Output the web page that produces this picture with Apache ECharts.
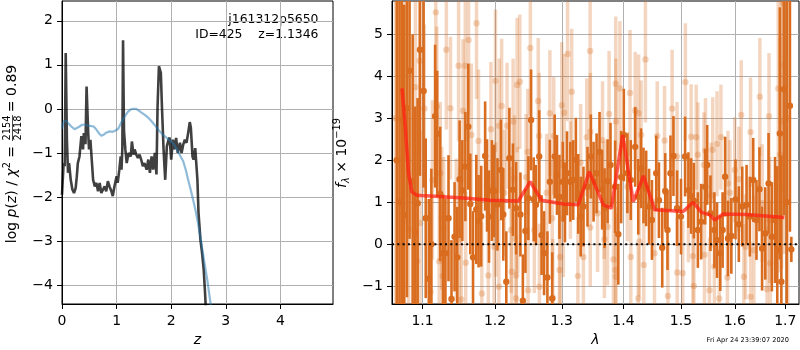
<!DOCTYPE html>
<html><head><meta charset="utf-8">
<script src="https://cdn.jsdelivr.net/npm/echarts@6/dist/echarts.min.js"></script>
<style>html,body{margin:0;padding:0;background:#fff}#c{width:800px;height:350px}</style>
</head><body><div id="c"></div>
<script>
// ---------------- DATA ----------------
const zTicks = [0, 1, 2, 3, 4];
const logpTicks = [-4, -3, -2, -1, 0, 1, 2];
const waveTicks = [1.1, 1.2, 1.3, 1.4, 1.5, 1.6, 1.7];
const fluxTicks = [-1, 0, 1, 2, 3, 4, 5];

// p(z) curve
const pzZ = [0.00,0.01,0.02,0.03,0.05,0.068,0.09,0.11,0.13,0.16,0.19,0.22,0.25,0.27,0.29,0.32,0.355,0.385,0.40,0.43,
  0.45,0.48,0.495,0.52,0.55,0.57,0.60,0.63,0.66,0.69,0.72,0.75,0.78,0.81,0.84,0.87,0.905,0.93,0.96,1.00,
  1.02,1.05,1.075,1.09,1.105,1.118,1.135,1.16,1.185,1.22,1.26,1.28,1.31,1.33,1.36,1.39,1.42,1.45,1.48,1.51,
  1.55,1.58,1.61,1.64,1.67,1.70,1.73,1.75,1.775,1.81,1.83,1.86,1.89,1.92,1.95,1.97,2.00,2.03,2.06,2.09,
  2.12,2.16,2.19,2.22,2.25,2.28,2.31,2.34,2.36,2.39,2.41,2.44,2.46,2.48,2.50,2.535,2.565,2.595,2.62,2.64];
const pzLog = [-1.95,-1.70,-1.68,-1.23,-1.30,1.27,-0.70,-1.45,-1.23,-1.61,-1.83,-1.91,-1.80,-1.55,-1.23,-1.08,-0.62,-0.92,-0.55,-0.80,
  0.51,-0.55,-0.92,-0.70,-0.66,-1.61,-1.76,-1.68,-1.87,-1.68,-1.91,-1.95,-1.76,-1.87,-1.64,-1.76,-1.87,-1.98,-1.76,-1.53,
  -1.68,-1.38,-1.08,-1.38,-0.90,1.56,-0.50,-0.92,-1.23,-1.00,-1.08,-0.74,-1.04,-0.92,-1.04,-1.11,-1.04,-1.15,-1.30,-1.23,
  -1.38,-1.15,-1.45,-1.08,-1.38,-1.00,-1.49,0.05,0.97,0.82,0.06,-0.92,-1.61,-0.85,-0.70,-0.65,-1.15,-0.70,-0.92,-0.66,
  -1.00,-0.77,-1.00,-0.81,-0.70,-0.77,-0.55,-0.30,-0.43,-1.08,-1.15,-0.89,-0.92,-1.61,-2.36,-2.97,-3.27,-3.65,-4.18,-4.70];

// prior curve
const priorZ = [0.00,0.03,0.07,0.11,0.17,0.23,0.28,0.32,0.37,0.42,0.48,0.54,0.58,0.63,0.68,0.72,0.77,0.81,0.87,0.93,
  0.98,1.03,1.09,1.15,1.21,1.26,1.30,1.36,1.39,1.45,1.51,1.58,1.64,1.70,1.76,1.82,1.88,1.95,2.03,2.09,
  2.15,2.22,2.27,2.31,2.36,2.40,2.45,2.49,2.54,2.58,2.62,2.66,2.72,2.76];
const priorLog = [-0.45,-0.28,-0.27,-0.32,-0.40,-0.46,-0.43,-0.40,-0.36,-0.36,-0.38,-0.39,-0.40,-0.47,-0.56,-0.61,-0.58,-0.54,-0.51,-0.52,
  -0.49,-0.45,-0.30,-0.17,-0.06,-0.01,0.00,0.00,-0.02,-0.08,-0.13,-0.20,-0.28,-0.37,-0.47,-0.55,-0.62,-0.69,-0.77,-0.89,
  -1.03,-1.19,-1.40,-1.61,-1.85,-2.06,-2.33,-2.59,-2.95,-3.27,-3.58,-3.88,-4.41,-4.80];

// spectrum, first set (dark)
const darkWave = [1.0665,1.0700,1.0731,1.0761,1.0796,1.0830,1.0870,1.0905,1.0935,1.0966,
  1.1014,1.1042,1.1083,1.1117,1.1167,1.1195,1.1235,1.1274,1.1306,1.1348,
  1.1389,1.1431,1.1468,1.1500,1.1538,1.1580,1.1621,1.1649,1.1687,1.1733,
  1.1765,1.1802,1.1858,1.1885,1.1913,1.1955,1.1987,1.2035,1.2085,1.2119,
  1.2163,1.2208,1.2260,1.2307,1.2371,1.2407,1.2445,1.2490,1.2530,1.2570,
  1.2604,1.2653,1.2689,1.2727,1.2778,1.2816,1.2852,1.2890,1.2926,1.2964,
  1.3016,1.3050,1.3082,1.3135,1.3180,1.3222,1.3260,1.3299,1.3343,1.3408,
  1.3462,1.3506,1.3555,1.3603,1.3645,1.3685,1.3735,1.3783,1.3860,1.3913,
  1.3960,1.4005,1.4065,1.4123,1.4198,1.4250,1.4298,1.4340,1.4386,1.4436,
  1.4486,1.4561,1.4608,1.4666,1.4719,1.4759,1.4812,1.4865,1.4930,1.5000,
  1.5074,1.5134,1.5184,1.5234,1.5307,1.5368,1.5442,1.5479,1.5540,1.5614,
  1.5663,1.5724,1.5768,1.5816,1.5871,1.5934,1.6014,1.6078,1.6144,1.6228,
  1.6292,1.6358,1.6422,1.6481,1.6533,1.6597,1.6662,1.6728,1.6792,1.6837,
  1.6889,1.6920,1.6973,1.7030,1.7095,1.7124];
const darkFlux = [2.00,1.00,2.96,0.70,3.24,4.13,1.50,0.28,0.98,4.63,
  3.65,0.62,-0.82,0.00,3.05,2.63,1.20,-0.21,-0.21,0.62,
  -1.30,0.18,-0.31,1.55,1.28,1.85,2.80,0.96,-0.31,0.83,
  0.55,0.67,2.10,1.40,0.66,1.28,1.27,0.95,1.77,0.71,
  -0.89,2.05,1.30,0.86,0.71,-1.34,0.32,1.10,2.96,1.07,
  0.94,2.09,0.22,-0.21,-0.79,1.49,-1.29,2.09,1.65,1.13,
  1.49,1.00,1.69,1.49,1.53,2.01,1.20,0.66,0.90,1.37,
  2.09,1.49,1.69,2.20,1.30,0.86,1.50,1.89,1.37,0.24,
  1.60,2.60,1.69,1.53,2.32,1.13,1.81,1.40,1.33,0.90,
  0.58,1.69,1.05,-0.08,1.27,0.34,1.69,2.10,0.86,0.66,
  2.09,1.29,1.15,1.04,0.34,0.54,1.37,1.89,0.74,0.34,
  0.10,-0.21,0.34,1.61,0.14,0.20,1.07,0.48,0.90,0.94,
  0.66,1.53,0.58,1.31,-0.10,0.26,1.45,0.18,0.58,-0.14,
  2.64,-0.89,3.69,1.00,3.30,-0.12];
const darkErr = [6,6,5,5,4.5,4,3.5,3,2.5,3,
  2.3,1.9,1.9,1.8,1.7,1.5,1.6,1.4,1.3,1.5,
  1.4,1.3,1.2,1.4,1.2,1.3,1.5,1.2,1.1,1.3,
  1.1,1.2,1.3,1.1,1.1,1.2,1.1,1.1,1.2,1.1,
  1.2,1.2,1.1,1.1,1.0,1.1,1.0,1.0,1.2,1.0,
  0.95,1.1,0.95,1.0,1.1,1.0,1.1,1.0,0.95,1.0,
  0.95,0.95,1.0,0.95,0.95,1.0,0.95,0.95,0.95,0.95,
  1.0,0.95,0.95,0.95,0.95,0.95,1.0,1.0,1.1,1.2,
  1.1,1.1,0.95,0.95,0.95,0.9,0.95,0.9,0.9,0.9,
  0.95,0.9,0.9,0.95,0.9,0.95,0.9,0.95,0.9,0.9,
  0.95,0.9,0.9,0.9,0.9,0.9,0.9,0.95,0.9,0.9,
  0.9,0.9,0.9,0.95,0.9,0.9,0.95,0.9,0.95,0.95,
  0.95,1.0,0.95,1.0,1.0,1.1,1.2,1.3,1.5,2.0,
  3,3,3,6,3,0.3];

// spectrum, second set (light)
const lightWave = [1.0650,1.0700,1.0774,1.0817,1.0905,1.0927,1.0961,1.0968,1.1024,1.1107,
  1.1131,1.1176,1.1190,1.1222,1.1236,1.1256,1.1269,1.1283,1.1319,1.1375,
  1.1454,1.1486,1.1500,1.1524,1.1547,1.1579,1.1585,1.1625,1.1663,1.1736,
  1.1764,1.1811,1.1903,1.1940,1.1986,1.2006,1.2010,1.2055,1.2059,1.2095,
  1.2134,1.2174,1.2233,1.2243,1.2263,1.2282,1.2307,1.2310,1.2322,1.2332,
  1.2362,1.2455,1.2481,1.2485,1.2519,1.2579,1.2638,1.2653,1.2656,1.2767,
  1.2816,1.2852,1.2861,1.2876,1.2965,1.2975,1.3000,1.3026,1.3038,1.3091,
  1.3135,1.3156,1.3254,1.3298,1.3342,1.3396,1.3450,1.3452,1.3455,1.3571,
  1.3652,1.3679,1.3682,1.3734,1.3760,1.3832,1.3865,1.3870,1.3872,1.3874,
  1.3940,1.4065,1.4110,1.4123,1.4198,1.4250,1.4257,1.4268,1.4298,1.4345,
  1.4373,1.4531,1.4578,1.4707,1.4766,1.4841,1.4929,1.4932,1.5031,1.5079,
  1.5134,1.5184,1.5215,1.5234,1.5276,1.5307,1.5418,1.5429,1.5447,1.5521,
  1.5552,1.5583,1.5613,1.5663,1.5705,1.5736,1.5859,1.5870,1.5907,1.6000,
  1.6078,1.6125,1.6175,1.6208,1.6306,1.6308,1.6372,1.6489,1.6535,1.6632,
  1.6671,1.6683,1.6697,1.6858,1.6891,1.6924,1.6950,1.6988,1.7050];
const lightFlux = [3.00,2.00,3.28,0.36,3.74,-0.40,4.37,0.51,3.23,-1.13,
  1.53,5.52,3.28,-0.40,1.69,0.62,-0.75,0.38,4.63,3.24,
  0.34,4.25,0.12,-1.31,3.18,4.25,-0.44,4.86,2.60,5.26,
  2.46,-1.17,-0.74,2.74,-0.06,3.89,0.83,-1.01,2.82,3.29,
  1.23,2.82,0.34,-0.65,2.92,1.57,-1.29,-0.74,3.79,0.82,
  3.87,1.60,2.20,-1.09,4.67,0.34,3.41,2.58,-1.01,1.23,
  3.12,0.62,-1.27,2.58,-0.61,-0.30,3.31,0.62,3.13,4.53,
  1.53,3.63,-0.75,1.94,-0.30,2.55,4.60,0.40,2.68,0.74,
  2.48,1.05,0.12,0.42,3.10,-0.36,-0.61,3.82,2.92,-0.77,
  3.71,1.37,3.60,-0.30,3.18,-1.29,3.12,0.06,2.60,-0.49,
  4.40,-0.21,2.58,2.47,-1.23,3.23,2.09,-0.67,-0.69,3.86,
  0.82,2.56,-0.28,-0.99,2.55,2.13,1.89,-0.25,2.23,-1.09,
  1.17,2.25,-0.53,2.39,-1.29,2.55,-0.79,1.45,1.23,1.77,
  1.55,3.08,-0.77,-0.06,2.67,-1.25,-0.14,3.51,0.98,-1.07,
  3.05,0.58,-0.45,3.71,2.13,2.92,5.74,4.27,3.00];
const lightErr = [6,6,2.8,2.8,2.2,2.2,2.2,2.2,2.0,1.9,
  1.9,2.1,1.9,1.7,1.7,1.7,1.7,1.7,1.9,1.7,
  1.7,1.8,1.7,1.7,1.7,1.8,1.7,1.8,1.7,1.8,
  1.7,1.7,1.6,1.6,1.6,1.7,1.6,1.6,1.6,1.6,
  1.5,1.5,1.5,1.5,1.5,1.5,1.5,1.5,1.6,1.5,
  1.6,1.5,1.5,1.5,1.6,1.5,1.5,1.5,1.5,1.4,
  1.5,1.4,1.4,1.4,1.4,1.4,1.5,1.4,1.4,1.6,
  1.4,1.5,1.4,1.4,1.4,1.4,1.6,1.4,1.4,1.4,
  1.4,1.4,1.4,1.4,1.5,1.5,1.5,1.6,1.5,1.5,
  1.6,1.3,1.5,1.3,1.4,1.3,1.4,1.3,1.3,1.3,
  1.5,1.3,1.3,1.3,1.3,1.4,1.3,1.3,1.25,1.4,
  1.25,1.25,1.25,1.25,1.25,1.25,1.25,1.25,1.25,1.25,
  1.25,1.25,1.25,1.25,1.25,1.25,1.25,1.25,1.25,1.25,
  1.25,1.3,1.25,1.25,1.3,1.3,1.3,1.4,1.4,1.5,
  1.5,1.5,1.5,2.2,2.8,3.5,4.5,4.5,6];

// best-fit model
const modelWave = [1.0732,1.0774,1.0816,1.0859,1.0922,1.1102,1.1554,1.1930,1.2340,1.2517,
  1.2692,1.3025,1.3260,1.3437,1.3665,1.3797,1.3987,1.4164,1.4340,1.4533,
  1.5038,1.5220,1.5375,1.5527,1.5618,1.5780,1.6224,1.6980];
const modelFlux = [3.71,2.80,1.69,1.25,1.17,1.15,1.10,1.05,1.03,1.49,
  1.05,0.96,0.94,1.73,0.94,0.86,2.60,1.01,1.63,0.82,
  0.78,1.00,0.76,0.70,0.58,0.72,0.71,0.64];

const titleLines = ['j161312p5650', 'ID=425    z=1.1346'];
const stampText = 'Fri Apr 24 23:39:07 2020';

// ---------------- CHART ----------------
const FONT = '"DejaVu Sans"';
const DARK = '#d96c1e';
const LIGHT = 'rgba(217,108,30,0.28)';
const minus = v => String(v).replace('-', '\u2212');
const L10 = Math.log10;
const waveMin = 1.0604, waveMax = 1.7282;

function errRender(color, lw, r) {
  return function (params, api) {
    const x = api.value(0), y = api.value(1), e = api.value(2);
    const c = api.coord([x, y]);
    const t = api.coord([x, y + e]);
    const b = api.coord([x, y - e]);
    const cs = params.coordSys;
    const y1 = Math.max(cs.y, t[1]), y2 = Math.min(cs.y + cs.height, b[1]);
    const ch = [];
    if (y2 > y1) ch.push({type: 'line', shape: {x1: c[0], y1: y1, x2: c[0], y2: y2}, style: {stroke: color, lineWidth: lw}});
    if (c[1] >= cs.y && c[1] <= cs.y + cs.height) ch.push({type: 'circle', shape: {cx: c[0], cy: c[1], r: r}, style: {fill: color}});
    return {type: 'group', children: ch};
  };
}

const mctx = document.createElement('canvas').getContext('2d');
function tw(text, size, style) { mctx.font = (style || 'normal') + ' ' + size + 'px ' + FONT; return mctx.measureText(text).width; }
function layout(segs) {
  let x = 0; const items = [];
  segs.forEach(s => {
    const w = tw(s.t, s.size, s.style);
    items.push({x: x, w: w, s: s});
    if (!s.noadv) x += w;
  });
  return {items: items, width: x};
}
function segGroup(cx, cy, segs, extra) {
  const lay = layout(segs);
  const x0 = -lay.width / 2;
  const children = lay.items.map(it => ({
    type: 'text', x: x0 + it.x + (it.s.dx || 0), y: it.s.dy || 0,
    style: {text: it.s.t, fontSize: it.s.size, fontFamily: 'DejaVu Sans', fontStyle: it.s.style || 'normal',
      fill: '#000', textAlign: 'left', textVerticalAlign: 'middle', align: 'left', verticalAlign: 'middle'}
  }));
  if (extra) extra(lay, x0).forEach(c => children.push(c));
  return {type: 'group', x: cx, y: cy, rotation: Math.PI / 2, children: children};
}

// left y label with fraction
const F = 14, S = 9.8;
const leftLabelSegs = [
  {t: 'log', size: F}, {t: ' ', size: F}, {t: 'p', size: F, style: 'italic'}, {t: '(', size: F},
  {t: 'z', size: F, style: 'italic'}, {t: ')', size: F}, {t: ' / ', size: F},
  {t: '\u03c7', size: F, style: 'italic'}, {t: '2', size: S, dy: -5}, {t: ' = ', size: F},
  {t: '2154', size: S, dy: -5, noadv: true, dx: 1}, {t: '2418', size: S, dy: 6, dx: 1},
  {t: ' = 0.89', size: F}
];
const leftLabel = segGroup(12, 154, leftLabelSegs, (lay, x0) => {
  const it = lay.items[11];
  return [{type: 'line', shape: {x1: x0 + it.x + 0.5, y1: 0.5, x2: x0 + it.x + it.w + 1.5, y2: 0.5}, style: {stroke: '#000', lineWidth: 0.7}}];
});
const rightLabel = segGroup(342, 153, [
  {t: 'f', size: F, style: 'italic'}, {t: '\u03bb', size: S, style: 'italic', dy: 4},
  {t: ' \u00d7 10', size: F}, {t: '\u221219', size: S, dy: -5}
]);

const axisCommon = {
  axisLine: {show: true, onZero: false, lineStyle: {color: '#000', width: 1}},
  splitLine: {show: true, lineStyle: {color: '#b0b0b0', width: 1}},
};

function mkX(grid, min, max, ticks, fmt) {
  return Object.assign({}, axisCommon, {
    gridIndex: grid, type: 'value', min: min, max: max, position: 'bottom',
    axisTick: {show: true, inside: false, length: 5, customValues: ticks, lineStyle: {color: '#000', width: 1}},
    axisLabel: {show: true, customValues: ticks, margin: 10, fontSize: 14, color: '#000', fontFamily: 'DejaVu Sans', formatter: fmt}
  });
}
function mkY(grid, min, max, ticks) {
  return Object.assign({}, axisCommon, {
    gridIndex: grid, type: 'value', min: min, max: max, position: 'left',
    axisTick: {show: true, inside: false, length: 5, customValues: ticks, lineStyle: {color: '#000', width: 1}},
    axisLabel: {show: true, customValues: ticks, margin: 9, fontSize: 14, color: '#000', fontFamily: 'DejaVu Sans', formatter: v => minus(v)}
  });
}

const option = {
  animation: false,
  backgroundColor: '#fff',
  grid: [
    {left: 62, top: 1, width: 271, height: 303, show: true, borderColor: '#000', borderWidth: 1, backgroundColor: 'transparent', containLabel: false, outerBoundsMode: 'none'},
    {left: 392, top: 1, width: 407, height: 303, show: true, borderColor: '#000', borderWidth: 1, backgroundColor: 'transparent', containLabel: false, outerBoundsMode: 'none'}
  ],
  xAxis: [
    mkX(0, 0, 4.963, zTicks, v => minus(Math.round(v))),
    mkX(1, L10(waveMin), L10(waveMax), waveTicks.map(L10), v => Math.pow(10, v).toFixed(1))
  ],
  yAxis: [
    mkY(0, -4.43, 2.45, logpTicks),
    mkY(1, -1.42, 5.79, fluxTicks)
  ],
  series: [
    {type: 'line', xAxisIndex: 0, yAxisIndex: 0, showSymbol: false, z: 3,
      data: pzZ.map((z, i) => [z, pzLog[i]]), lineStyle: {color: 'rgba(0,0,0,0.75)', width: 2.6}},
    {type: 'line', xAxisIndex: 0, yAxisIndex: 0, showSymbol: false, z: 4,
      data: priorZ.map((z, i) => [z, priorLog[i]]), lineStyle: {color: 'rgba(31,119,180,0.5)', width: 2.2}},
    {type: 'custom', xAxisIndex: 1, yAxisIndex: 1, z: 2, clip: true, renderItem: errRender(LIGHT, 3.5, 3.2),
      data: lightWave.map((w, i) => [L10(w), lightFlux[i], lightErr[i]])},
    {type: 'custom', xAxisIndex: 1, yAxisIndex: 1, z: 3, clip: true, renderItem: errRender(DARK, 2.6, 3.2),
      data: darkWave.map((w, i) => [L10(w), darkFlux[i], darkErr[i]])},
    {type: 'line', xAxisIndex: 1, yAxisIndex: 1, showSymbol: false, z: 5,
      data: modelWave.map((w, i) => [L10(w), modelFlux[i]]), lineStyle: {color: 'rgba(255,30,20,0.72)', width: 3.5}},
    {type: 'line', xAxisIndex: 1, yAxisIndex: 1, showSymbol: false, z: 6,
      data: [[L10(waveMin), 0], [L10(waveMax), 0]], lineStyle: {color: '#000', width: 2, type: [2, 3.3]}}
  ],
  graphic: [
    leftLabel, rightLabel,
    {type: 'text', x: 197.5, y: 340, style: {text: 'z', fontSize: 14, fontStyle: 'italic', fontFamily: 'DejaVu Sans', fill: '#000', textAlign: 'center', textVerticalAlign: 'middle', align: 'center', verticalAlign: 'middle'}},
    {type: 'text', x: 595.5, y: 340, style: {text: '\u03bb', fontSize: 14, fontStyle: 'italic', fontFamily: 'DejaVu Sans', fill: '#000', textAlign: 'center', textVerticalAlign: 'middle', align: 'center', verticalAlign: 'middle'}},
    {type: 'text', x: 318.5, y: 20, style: {text: titleLines[0], fontSize: 12.4, fontFamily: 'DejaVu Sans', fill: '#000', textAlign: 'right', textVerticalAlign: 'middle', align: 'right', verticalAlign: 'middle'}},
    {type: 'text', x: 318.5, y: 34.5, style: {text: titleLines[1], fontSize: 12.4, fontFamily: 'DejaVu Sans', fill: '#000', textAlign: 'right', textVerticalAlign: 'middle', align: 'right', verticalAlign: 'middle'}},
    {type: 'text', x: 789, y: 340, style: {text: stampText, fontSize: 6.6, fontFamily: 'DejaVu Sans', fill: '#000', textAlign: 'right', textVerticalAlign: 'middle', align: 'right', verticalAlign: 'middle'}}
  ]
};
const chart = echarts.init(document.getElementById('c'), null, {renderer: 'canvas'});
chart.setOption(option);
</script></body></html>
